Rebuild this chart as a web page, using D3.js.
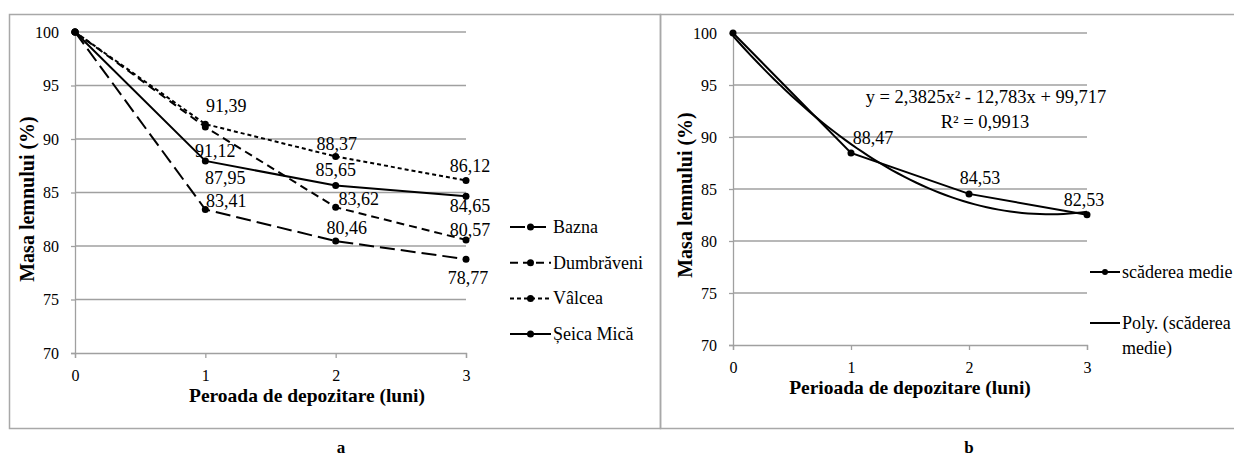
<!DOCTYPE html>
<html><head><meta charset="utf-8">
<script src="https://cdn.jsdelivr.net/npm/d3@7"></script>
<style>body{margin:0;background:#fff}svg{display:block}svg text{font-family:"Liberation Serif","DejaVu Serif","Times New Roman",serif;fill:#000}</style>
</head><body>
<svg id="c" width="1234" height="459"></svg>
<script>
// ---- data ----
const months = [0, 1, 2, 3];
const yTicks = [70, 75, 80, 85, 90, 95, 100];
const seriesNames = ["Bazna", "Dumbrăveni", "Vâlcea", "Șeica Mică"];
const bazna = [100, 83.41, 80.46, 78.77];
const dumbraveni = [100, 91.12, 83.62, 80.57];
const valcea = [100, 91.39, 88.37, 86.12];
const seicaMica = [100, 87.95, 85.65, 84.65];
const medie = [100, 88.47, 84.53, 82.53];
const polyCoef = [2.3825, -12.783, 99.717];
const eqText = "y = 2,3825x² - 12,783x + 99,717";
const r2Text = "R² = 0,9913";
const legendB = ["scăderea medie", "Poly. (scăderea", "medie)"];

const svg = d3.select("#c");
const SERIF = '"Liberation Serif","DejaVu Serif","Times New Roman",serif';
const fmt = v => (Number.isInteger(v) ? String(v) : v.toFixed(2).replace(".", ","));

// panel frames
svg.append("rect").attr("x", 9.5).attr("y", 14.5).attr("width", 651).attr("height", 414)
  .attr("fill", "none").attr("stroke", "#a8a8a8").attr("stroke-width", 1.5);
svg.append("rect").attr("x", 660.5).attr("y", 14.5).attr("width", 600).attr("height", 414)
  .attr("fill", "none").attr("stroke", "#a8a8a8").attr("stroke-width", 1.5);

function panel(cfg) {
  const x = d3.scaleLinear().domain([0, 3]).range([cfg.x0, cfg.x1]);
  const y = d3.scaleLinear().domain([70, 100]).range([cfg.y0, cfg.y1]);
  const g = svg.append("g").attr("font-family", SERIF);
  g.selectAll(".grid").data(yTicks.filter(t => t > 70)).join("line")
    .attr("x1", cfg.x0).attr("x2", cfg.x1).attr("y1", d => y(d)).attr("y2", d => y(d))
    .attr("stroke", "#a0a0a0").attr("stroke-width", 1.3);
  const ya = g.append("g").attr("transform", `translate(${cfg.x0},0)`)
    .call(d3.axisLeft(y).tickValues(yTicks).tickSize(4).tickPadding(12).tickFormat(d => d));
  ya.attr("font-family", SERIF).attr("font-size", 16);
  ya.select(".domain").attr("stroke", "#a0a0a0").attr("stroke-width", 1.3);
  ya.selectAll(".tick line").attr("stroke", "#a0a0a0").attr("stroke-width", 1.3);
  ya.selectAll("text").attr("fill", "#000");
  const xa = g.append("g").attr("transform", `translate(0,${cfg.y0})`)
    .call(d3.axisBottom(x).tickValues(months).tickSize(5).tickPadding(12).tickFormat(d => d));
  xa.attr("font-family", SERIF).attr("font-size", 16);
  xa.select(".domain").attr("stroke", "#a0a0a0").attr("stroke-width", 1.3);
  xa.selectAll(".tick line").attr("stroke", "#a0a0a0").attr("stroke-width", 1.3);
  xa.selectAll("text").attr("fill", "#000");
  g.append("text").attr("x", cfg.xt).attr("y", cfg.y0 + 49).attr("text-anchor", "middle")
    .style("font-size", "19.5px").style("font-weight", "bold").text(cfg.xTitle);
  g.append("text").attr("transform", `translate(${cfg.yTitleX},${cfg.yTitleY}) rotate(-90)`)
    .attr("text-anchor", "middle").style("font-size", "20px").style("font-weight", "bold")
    .text("Masa lemnului (%)");
  g.append("text").attr("x", cfg.letterX).attr("y", 447).attr("text-anchor", "middle")
    .attr("dominant-baseline", "central")
    .style("font-size", "17px").style("font-weight", "bold").text(cfg.letter);
  return {x, y, g};
}

// ---- panel a ----
const A = panel({x0: 75, x1: 466, y0: 353, y1: 32, xt: 307, xTitle: "Peroada de depozitare (luni)",
  yTitleX: 34, yTitleY: 199, letter: "a", letterX: 341});
const aSeries = [bazna, dumbraveni, valcea, seicaMica];
const dashes = ["15,6", "8,5", "4,3", null];
const line = (sc) => d3.line().x((d, i) => sc.x(months[i])).y(d => sc.y(d));
aSeries.forEach((s, k) => {
  A.g.append("path").datum(s).attr("d", line(A)).attr("fill", "none").attr("stroke", "#000")
    .attr("stroke-width", 2).attr("stroke-dasharray", dashes[k]);
  A.g.selectAll(null).data(s).join("circle").attr("cx", (d, i) => A.x(months[i])).attr("cy", d => A.y(d))
    .attr("r", 3.5).attr("fill", "#000");
});
const aOff = [
  [null, [21, -9], [11, -13], [2, 19]],
  [null, [10, 24], [23, -8], [4, -10]],
  [null, [21, -18], [1, -12], [4, -15]],
  [null, [20, 17], [0, -16], [4, 10]]
];
aSeries.forEach((s, k) => {
  s.forEach((v, i) => {
    if (!aOff[k][i]) return;
    A.g.append("text").attr("x", A.x(months[i]) + aOff[k][i][0]).attr("y", A.y(v) + aOff[k][i][1])
      .attr("text-anchor", "middle").attr("dominant-baseline", "central")
      .style("font-size", "18px").text(fmt(v));
  });
});
const lgA = A.g.append("g");
seriesNames.forEach((n, k) => {
  const yy = 227 + k * 35.7;
  lgA.append("line").attr("x1", 510).attr("x2", 551).attr("y1", yy).attr("y2", yy)
    .attr("stroke", "#000").attr("stroke-width", 2).attr("stroke-dasharray", dashes[k]);
  lgA.append("circle").attr("cx", 530.5).attr("cy", yy).attr("r", 3.5).attr("fill", "#000");
  lgA.append("text").attr("x", 553).attr("y", yy).attr("dominant-baseline", "central")
    .style("font-size", "18px").text(n);
});

// ---- panel b ----
const B = panel({x0: 733, x1: 1087, y0: 345, y1: 33, xt: 910, xTitle: "Perioada de depozitare (luni)",
  yTitleX: 692, yTitleY: 195, letter: "b", letterX: 969});
const trendX = d3.range(0, 3.0001, 0.05);
B.g.append("path").datum(trendX)
  .attr("d", d3.line().x(t => B.x(t)).y(t => B.y(polyCoef[0] * t * t + polyCoef[1] * t + polyCoef[2])))
  .attr("fill", "none").attr("stroke", "#000").attr("stroke-width", 2);
B.g.append("path").datum(medie).attr("d", line(B)).attr("fill", "none").attr("stroke", "#000").attr("stroke-width", 2);
B.g.selectAll(null).data(medie).join("circle").attr("cx", (d, i) => B.x(months[i])).attr("cy", d => B.y(d))
  .attr("r", 3.5).attr("fill", "#000");
const bOff = [null, [22, -15], [11, -16], [-3, -15]];
medie.forEach((v, i) => {
  if (!bOff[i]) return;
  B.g.append("text").attr("x", B.x(months[i]) + bOff[i][0]).attr("y", B.y(v) + bOff[i][1])
    .attr("text-anchor", "middle").attr("dominant-baseline", "central").style("font-size", "18px").text(fmt(v));
});
B.g.append("text").attr("x", 986).attr("y", 97).attr("text-anchor", "middle").attr("dominant-baseline", "central")
  .style("font-size", "18.5px").text(eqText);
B.g.append("text").attr("x", 985).attr("y", 122).attr("text-anchor", "middle").attr("dominant-baseline", "central")
  .style("font-size", "18.5px").text(r2Text);
B.g.append("line").attr("x1", 1090).attr("x2", 1120).attr("y1", 272).attr("y2", 272).attr("stroke", "#000").attr("stroke-width", 2);
B.g.append("circle").attr("cx", 1105).attr("cy", 272).attr("r", 3).attr("fill", "#000");
B.g.append("text").attr("x", 1122).attr("y", 272).attr("dominant-baseline", "central").style("font-size", "18px").text(legendB[0]);
B.g.append("line").attr("x1", 1090).attr("x2", 1120).attr("y1", 323).attr("y2", 323).attr("stroke", "#000").attr("stroke-width", 2);
B.g.append("text").attr("x", 1122).attr("y", 323).attr("dominant-baseline", "central").style("font-size", "18px").text(legendB[1]);
B.g.append("text").attr("x", 1122).attr("y", 348).attr("dominant-baseline", "central").style("font-size", "18px").text(legendB[2]);
</script>
</body></html>
